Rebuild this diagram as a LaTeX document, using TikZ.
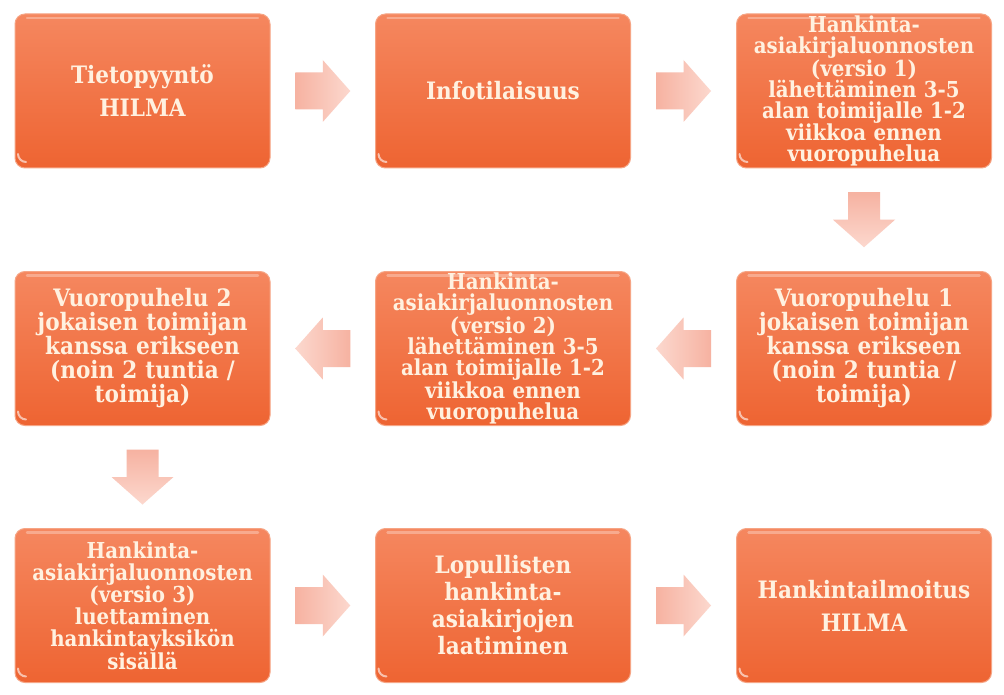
\documentclass[tikz,border=0pt]{standalone}
\usepackage{fontspec}
\setmainfont{DejaVu Serif Condensed}
\usetikzlibrary{calc}
\definecolor{boxtop}{HTML}{F5875F}
\definecolor{boxbot}{HTML}{EE6432}
\definecolor{boxedge}{HTML}{F6A585}
\definecolor{txt}{HTML}{FFF1E0}
\definecolor{arrA}{HTML}{FCD8CE}
\definecolor{arrB}{HTML}{F6B2A1}
\begin{document}
\begin{tikzpicture}[x=1pt,y=-1pt,
  stepbox/.style 2 args={rounded corners=10pt, minimum width=255pt, minimum height=154pt,
    draw=boxedge, line width=1pt, top color=boxtop, bottom color=boxbot,
    text=txt, font=\bfseries\fontsize{#1}{#2}\selectfont, align=center,
    text width=250pt, inner sep=0pt,
    path picture={\draw[white, opacity=0.3, line width=2.5pt, line cap=round]
      ($(path picture bounding box.north west)+(12,4)$) -- ($(path picture bounding box.north east)+(-12,4)$);
      \draw[white, opacity=0.6, line width=2pt, line cap=round]
      ($(path picture bounding box.south west)+(3,-14)$) arc[start angle=180, end angle=270, radius=8pt];}},
  rarr/.pic={\path[pic actions] (-27.5,-18.5) -- (0,-18.5) -- (0,-31) -- (27.5,0) -- (0,31) -- (0,18.5) -- (-27.5,18.5) -- cycle;},
  larr/.pic={\path[pic actions] (27.5,-18.5) -- (0,-18.5) -- (0,-31) -- (-27.5,0) -- (0,31) -- (0,18.5) -- (27.5,18.5) -- cycle;},
  darr/.pic={\path[pic actions] (-16,-27.5) -- (-16,0) -- (-31,0) -- (0,27.5) -- (31,0) -- (16,0) -- (16,-27.5) -- cycle;},
  toright/.style={left color=arrB, right color=arrA},
  toleft/.style={left color=arrA, right color=arrB},
  todown/.style={top color=arrB, bottom color=arrA}]
\useasboundingbox (0,0) rectangle (1004,695);
\fill[white] (0,0) rectangle (1004,695);
% row 1
\node[stepbox={24}{33}] (b1) at (142.5,91) {Tietopyyntö\\HILMA};
\node[stepbox={24}{33}] (b2) at (503,91) {Infotilaisuus};
\node[stepbox={22}{21}] (b3) at (864,91) {Hankinta-\\asiakirjaluonnosten\\(versio 1)\\lähettäminen 3-5\\alan toimijalle 1-2\\viikkoa ennen\\vuoropuhelua};
% row 2
\node[stepbox={24}{24}] (b4) at (864,348.5) {Vuoropuhelu 1\\jokaisen toimijan\\kanssa erikseen\\(noin 2 tuntia /\\toimija)};
\node[stepbox={22}{21}] (b5) at (503,348.5) {Hankinta-\\asiakirjaluonnosten\\(versio 2)\\lähettäminen 3-5\\alan toimijalle 1-2\\viikkoa ennen\\vuoropuhelua};
\node[stepbox={24}{24}] (b6) at (142.5,348.5) {Vuoropuhelu 2\\jokaisen toimijan\\kanssa erikseen\\(noin 2 tuntia /\\toimija)};
% row 3
\node[stepbox={22}{22}] (b7) at (142.5,605.5) {Hankinta-\\asiakirjaluonnosten\\(versio 3)\\luettaminen\\hankintayksikön\\sisällä};
\node[stepbox={24}{27}] (b8) at (503,605.5) {Lopullisten\\hankinta-\\asiakirjojen\\laatiminen};
\node[stepbox={24}{33}] (b9) at (864,605.5) {Hankintailmoitus\\HILMA};
% arrows
\pic[toright] (a12) at ($(b1.east)!0.5!(b2.west)$) {rarr};
\pic[toright] (a23) at ($(b2.east)!0.5!(b3.west)$) {rarr};
\pic[todown]  (a34) at ($(b3.south)!0.5!(b4.north)$) {darr};
\pic[toleft]  (a45) at ($(b4.west)!0.5!(b5.east)$) {larr};
\pic[toleft]  (a56) at ($(b5.west)!0.5!(b6.east)$) {larr};
\pic[todown]  (a67) at ($(b6.south)!0.5!(b7.north)$) {darr};
\pic[toright] (a78) at ($(b7.east)!0.5!(b8.west)$) {rarr};
\pic[toright] (a89) at ($(b8.east)!0.5!(b9.west)$) {rarr};
\end{tikzpicture}
\end{document}
